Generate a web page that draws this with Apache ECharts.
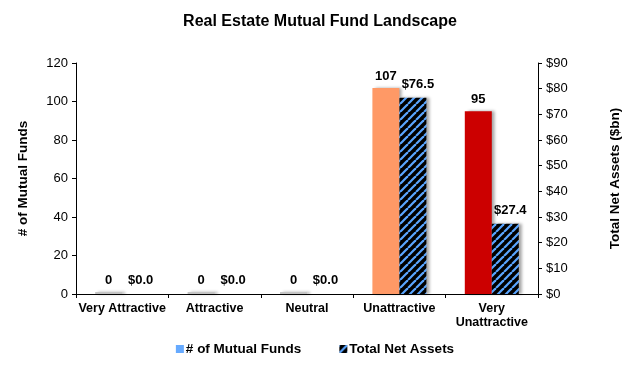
<!DOCTYPE html>
<html>
<head>
<meta charset="utf-8">
<script src="https://cdn.jsdelivr.net/npm/echarts@6/dist/echarts.min.js"></script>
<style>html,body{margin:0;padding:0;background:#fff}#c{width:630px;height:368px}</style>
</head>
<body>
<div id="c"></div>
<script>
const categories = ['Very Attractive', 'Attractive', 'Neutral', 'Unattractive', 'Very\nUnattractive'];
const fundCounts = [0, 0, 0, 107, 95];
const netAssets = [0.0, 0.0, 0.0, 76.5, 27.4];
const fundColors = ['#00863D', '#5FBF3C', '#FFD700', '#FF9966', '#CC0000'];
const leftTicks = { min: 0, max: 120, interval: 20 };
const rightTicks = { min: 0, max: 90, interval: 10 };

// hatch pattern
const P = 8;
const pc = document.createElement('canvas');
pc.width = P; pc.height = P;
const g = pc.getContext('2d');
g.fillStyle = '#000';
g.fillRect(0, 0, P, P);
g.strokeStyle = '#5AA5FF';
g.lineWidth = 2.2;
for (let k = -P; k <= 2 * P; k += P) {
  g.beginPath();
  g.moveTo(k, P);
  g.lineTo(k + P, 0);
  g.stroke();
}
const hatch = { image: pc, repeat: 'repeat' };

const font = 'Liberation Sans, Arial, sans-serif';
const shadow = { shadowColor: 'rgba(0,0,0,0.35)', shadowBlur: 3, shadowOffsetX: 3, shadowOffsetY: 0 };
const chart = echarts.init(document.getElementById('c'), null, { renderer: 'canvas' });
chart.setOption({
  animation: false,
  backgroundColor: '#fff',
  title: {
    text: 'Real Estate Mutual Fund Landscape',
    left: 315, top: 9, textAlign: 'center',
    textStyle: { fontFamily: font, fontSize: 16, fontWeight: 'bold', color: '#000' }
  },
  legend: {
    bottom: 7, left: 'center',
    itemWidth: 8, itemHeight: 8, itemGap: 38,
    textStyle: { fontFamily: font, fontSize: 13.5, fontWeight: 'bold', color: '#000', padding: [0, 0, 0, -3] },
    data: [
      { name: '# of Mutual Funds', icon: 'rect', itemStyle: { color: '#66AAFF', shadowBlur: 0, shadowOffsetX: 0 } },
      { name: 'Total Net Assets', icon: 'rect', itemStyle: { color: hatch, shadowBlur: 0, shadowOffsetX: 0 } }
    ]
  },
  grid: { left: 76, right: 87, top: 63, bottom: 74 },
  xAxis: {
    type: 'category',
    data: categories,
    axisLine: { lineStyle: { color: '#000', width: 1 } },
    axisTick: { show: true, alignWithLabel: false, length: 4, lineStyle: { color: '#000' } },
    axisLabel: { fontFamily: font, fontSize: 12.5, fontWeight: 'bold', color: '#000', margin: 8, lineHeight: 14, interval: 0 }
  },
  yAxis: [
    {
      type: 'value', min: leftTicks.min, max: leftTicks.max, interval: leftTicks.interval,
      name: '# of Mutual Funds', nameLocation: 'middle', nameGap: 46, nameRotate: 90,
      nameTextStyle: { fontFamily: font, fontSize: 13.5, fontWeight: 'bold', color: '#000' },
      axisLine: { show: true, lineStyle: { color: '#000' } },
      axisTick: { show: true, length: 4, lineStyle: { color: '#000' } },
      splitLine: { show: false },
      axisLabel: { fontFamily: font, fontSize: 13, color: '#000', margin: 8 }
    },
    {
      type: 'value', min: rightTicks.min, max: rightTicks.max, interval: rightTicks.interval,
      name: 'Total Net Assets ($bn)', nameLocation: 'middle', nameGap: 70, nameRotate: 90,
      nameTextStyle: { fontFamily: font, fontSize: 13.5, fontWeight: 'bold', color: '#000' },
      axisLine: { show: true, lineStyle: { color: '#000' } },
      axisTick: { show: true, length: 4, lineStyle: { color: '#000' } },
      splitLine: { show: false },
      axisLabel: { fontFamily: font, fontSize: 13, color: '#000', margin: 8, formatter: v => '$' + v }
    }
  ],
  series: [
    {
      name: '# of Mutual Funds', type: 'bar', yAxisIndex: 0,
      barWidth: 27, barGap: '0%', barMinHeight: 2,
      color: '#66AAFF',
      data: fundCounts.map((v, i) => ({ value: v, itemStyle: { color: v === 0 ? '#c4c4c4' : fundColors[i] } })),
      itemStyle: shadow,
      label: { show: true, position: 'top', distance: 5, fontFamily: font, fontSize: 13, fontWeight: 'bold', color: '#000' }
    },
    {
      name: 'Total Net Assets', type: 'bar', yAxisIndex: 1,
      barWidth: 27, barGap: '0%',
      data: netAssets,
      itemStyle: Object.assign({ color: hatch }, shadow),
      label: { show: true, position: 'top', distance: 7, offset: [5, 0], fontFamily: font, fontSize: 13, fontWeight: 'bold', color: '#000',
               formatter: p => '$' + p.value.toFixed(1) }
    }
  ]
});
</script>
</body>
</html>
